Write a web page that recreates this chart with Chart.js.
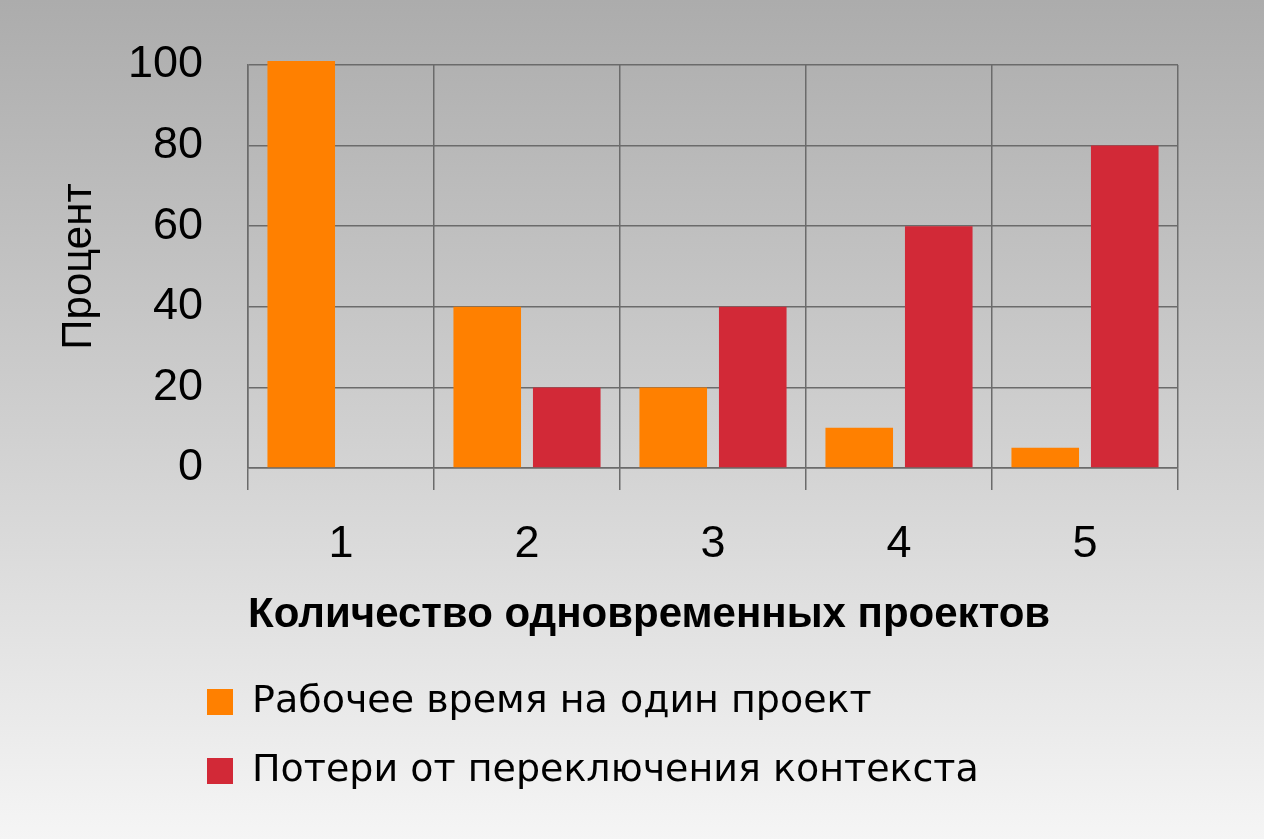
<!DOCTYPE html>
<html>
<head>
<meta charset="utf-8">
<script src="https://cdn.jsdelivr.net/npm/chart.js@4/dist/chart.umd.min.js"></script>
<style>
  html, body { margin: 0; padding: 0; }
  body {
    width: 1264px; height: 839px; overflow: hidden;
    background: linear-gradient(to bottom, #acacac 0%, #cfcfcf 50%, #f5f5f5 100%);
  }
  #wrap { position: relative; width: 1264px; height: 839px; }
</style>
</head>
<body>
<div id="wrap"><canvas id="c" width="1264" height="839"></canvas></div>
<script>
const categories = ['1', '2', '3', '4', '5'];
const seriesNames = ['Рабочее время на один проект', 'Потери от переключения контекста'];
const workTime = [101, 40, 20, 10, 5];
const switchLoss = [0, 20, 40, 60, 80];
const yTicks = [0, 20, 40, 60, 80, 100];
const xTitle = 'Количество одновременных проектов';
const yTitle = 'Процент';

const FONT = "'Liberation Sans', Arimo, Arial, sans-serif";
const LEGEND_FONT = "'DejaVu Sans', 'Liberation Sans', sans-serif";
const gridColor = '#6b6b6b';

const legendShift = {
  id: 'legendShift',
  afterLayout(chart) {
    const lg = chart.legend;
    if (!lg) return;
    const w = lg.right - lg.left;
    lg.left = 176;
    lg.right = 176 + w;
  }
};

new Chart(document.getElementById('c'), {
  type: 'bar',
  data: {
    labels: categories,
    datasets: [
      { label: seriesNames[0], data: workTime, backgroundColor: '#ff8000', borderWidth: 0, clip: false },
      { label: seriesNames[1], data: switchLoss, backgroundColor: '#d22937', borderWidth: 0, clip: false }
    ]
  },
  options: {
    responsive: false,
    animation: false,
    devicePixelRatio: 1,
    categoryPercentage: 0.855,
    barPercentage: 0.85,
    layout: { padding: { left: 40, right: 86, top: 65, bottom: 39 } },
    plugins: {
      tooltip: { enabled: false },
      legend: {
        position: 'bottom',
        align: 'start',
        labels: {
          boxWidth: 26,
          boxHeight: 26,
          padding: 31,
          color: '#000',
          font: { family: LEGEND_FONT, size: 38 }
        }
      }
    },
    scales: {
      x: {
        afterFit(scale) { scale.height = 184; },
        grid: { color: gridColor, lineWidth: 1.5, tickLength: 22, offset: true, drawTicks: true },
        border: { color: gridColor, width: 1.5 },
        ticks: { color: '#000', font: { family: FONT, size: 45 }, padding: 28, maxRotation: 0 },
        title: {
          display: true, text: xTitle, align: 'start', color: '#000',
          font: { family: FONT, size: 42, weight: 'bold' },
          padding: { top: 11, bottom: 11 }
        }
      },
      y: {
        min: 0, max: 100,
        afterFit(scale) { scale.width = 208; scale.paddingTop = 0; scale.paddingBottom = 0; },
        afterBuildTicks(scale) { scale.ticks = yTicks.map(v => ({ value: v })); },
        grid: { color: gridColor, lineWidth: 1.5, drawTicks: false },
        border: { color: gridColor, width: 1.5 },
        ticks: { color: '#000', font: { family: FONT, size: 45 }, padding: 45 },
        title: {
          display: true, text: yTitle, color: '#000',
          font: { family: FONT, size: 42 },
          padding: { top: 14, bottom: 14 }
        }
      }
    }
  },
  plugins: [legendShift]
});
</script>
</body>
</html>
